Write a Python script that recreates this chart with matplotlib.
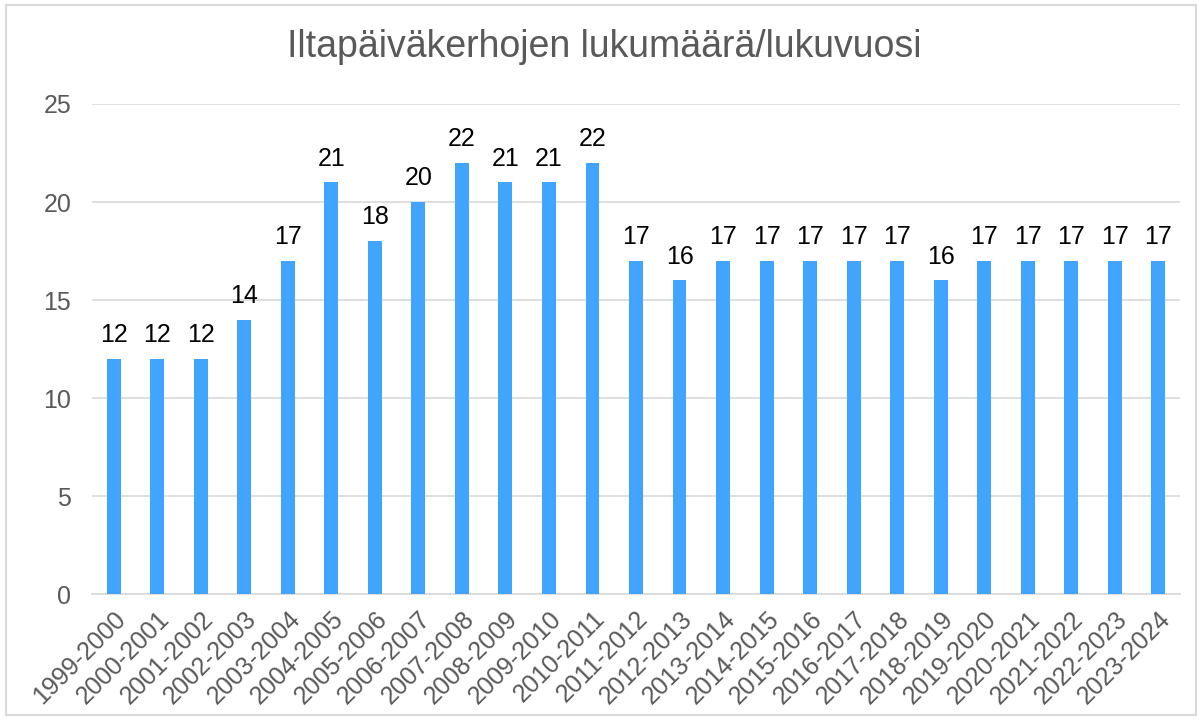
import matplotlib.pyplot as plt
import numpy as np

plt.rcParams['font.family'] = ['Liberation Sans', 'DejaVu Sans']

years = ['1999-2000', '2000-2001', '2001-2002', '2002-2003', '2003-2004',
         '2004-2005', '2005-2006', '2006-2007', '2007-2008', '2008-2009',
         '2009-2010', '2010-2011', '2011-2012', '2012-2013', '2013-2014',
         '2014-2015', '2015-2016', '2016-2017', '2017-2018', '2018-2019',
         '2019-2020', '2020-2021', '2021-2022', '2022-2023', '2023-2024']
counts = [12, 12, 12, 14, 17, 21, 18, 20, 22, 21, 21, 22, 17, 16, 17,
          17, 17, 17, 17, 16, 17, 17, 17, 17, 17]

fig = plt.figure(figsize=(12.02, 7.2), dpi=100)
ax = fig.add_axes([92 / 1202, 1 - 594 / 720, (1180 - 92) / 1202, (594 - 104) / 720])

x = np.arange(len(years))
bars = ax.bar(x, counts, width=0.32, color='#41A5FF', zorder=3)
for xi, v in zip(x, counts):
    ax.text(xi, v + 0.6, str(v), ha='center', va='bottom', fontsize=18, color='black')

ax.set_xlim(-0.5, len(years) - 0.5)
ax.set_ylim(0, 25)
ax.set_yticks(range(0, 26, 5))
ax.set_xticks(x)
ax.set_xticklabels(years, rotation=45, ha='right', rotation_mode='anchor')
ax.tick_params(axis='both', length=0, labelsize=18, colors='#595959')
ax.tick_params(axis='y', pad=15)
ax.tick_params(axis='x', pad=9)
ax.grid(axis='y', color='#D9D9D9', linewidth=1.2, zorder=0)
for s in ['top', 'right', 'left']:
    ax.spines[s].set_visible(False)
ax.spines['bottom'].set_color('#D9D9D9')
ax.spines['bottom'].set_linewidth(1.2)

fig.text(0.503, 1 - 47 / 720, 'Iltapäiväkerhojen lukumäärä/lukuvuosi',
         ha='center', va='center', fontsize=27, color='#595959')

fig.patches.append(plt.Rectangle((6 / 1202, 1 - 715 / 720), 1190 / 1202, 710 / 720,
                                 transform=fig.transFigure, fill=False,
                                 edgecolor='#D9D9D9', linewidth=1.5))

fig.savefig('out.png', dpi=100)
